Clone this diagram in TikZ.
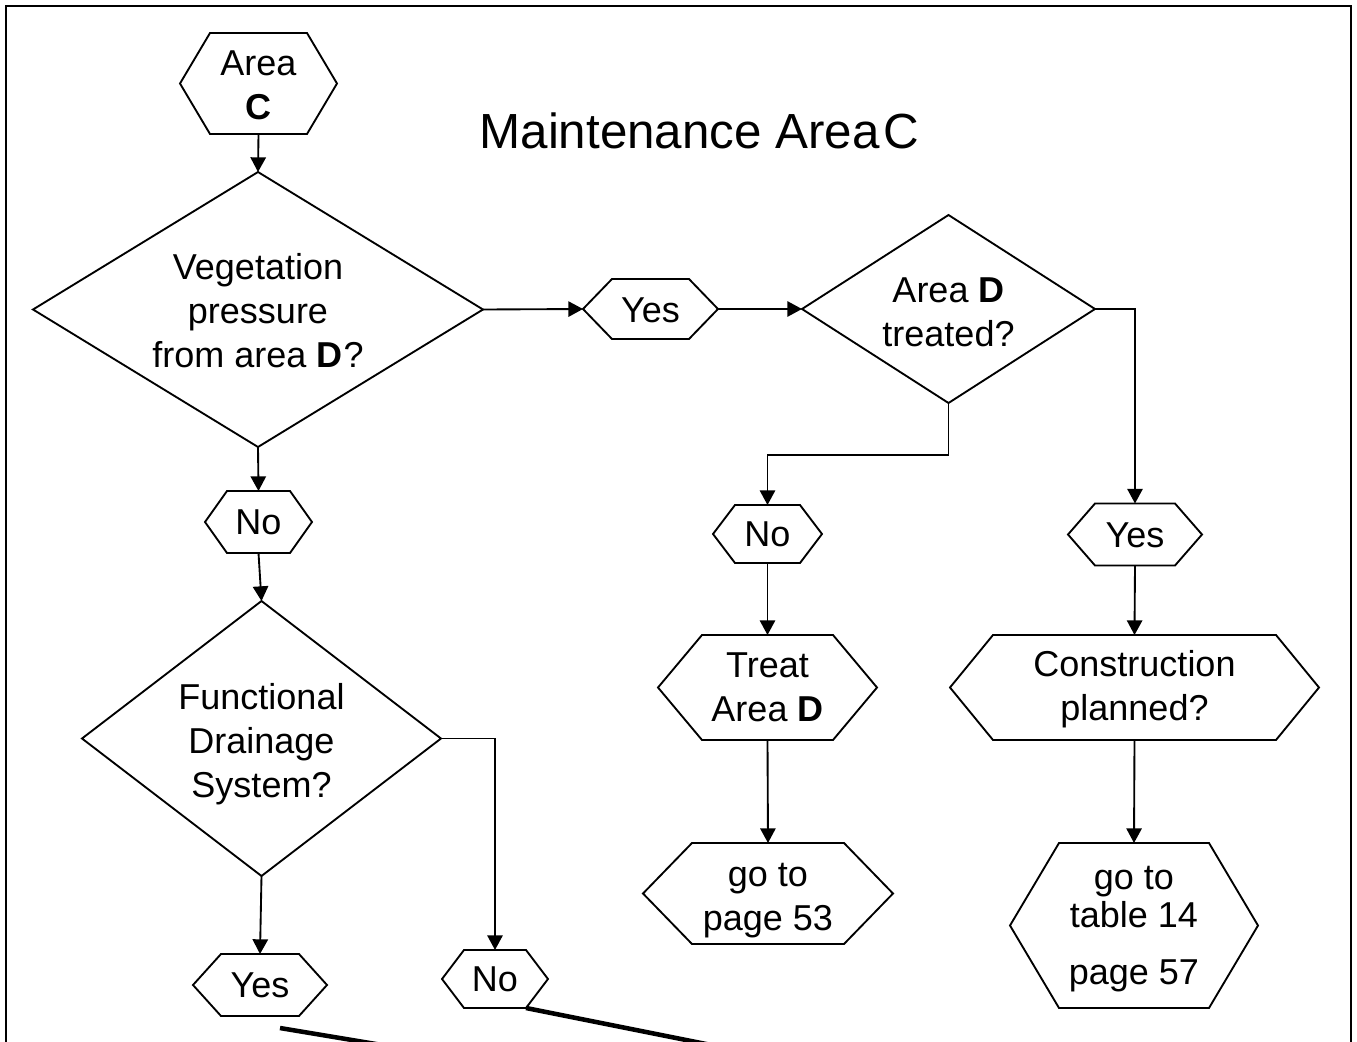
\documentclass[tikz,border=0pt]{standalone}
\usepackage{fontspec}
\setmainfont{Liberation Sans}
\usetikzlibrary{arrows.meta,calc}

\tikzset{
  outline/.style={line width=1.4pt, line join=miter},
  shape box/.style={inner sep=0pt, outer sep=0pt},
  label text/.style={inner sep=0pt, outer sep=0pt, align=center,
    font=\fontsize{27}{33}\selectfont},
  flow/.style={line width=1.4pt, -{Triangle[length=11pt,width=11.5pt]}},
  heavy/.style={line width=3.4pt},
  frame/.style={line width=2.2pt},
}

% hexagon: [text shift], name, x, y, width, height, side indent, text (lengths in px units)
\newcommand{\flowhex}[8][0]{%
  \node[shape box, minimum width=#5*0.75pt, minimum height=#6*0.75pt] (#2) at (#3,#4) {};
  \node[label text] at ($(#3,#4)+(0,#1)$) {#8};
  \draw[outline] (#2.west) -- ($(#2.north west)+(#7,0)$) -- ($(#2.north east)+(-#7,0)$)
    -- (#2.east) -- ($(#2.south east)+(-#7,0)$) -- ($(#2.south west)+(#7,0)$) -- cycle;}

% decision diamond: [text shift], name, x, y, width, height, text
\newcommand{\flowdia}[7][0]{%
  \node[shape box, minimum width=#5*0.75pt, minimum height=#6*0.75pt] (#2) at (#3,#4) {};
  \node[label text] at ($(#3,#4)+(0,#1)$) {#7};
  \draw[outline] (#2.west) -- (#2.north) -- (#2.east) -- (#2.south) -- cycle;}

\begin{document}
\begin{tikzpicture}[x=0.75pt, y=-0.75pt]
\useasboundingbox (0,0) rectangle (1357,1042);
\clip (0,0) rectangle (1357,1042);

% page frame, open at the bottom
\draw[frame] (6,1100) -- (6,6) -- (1351,6) -- (1351,1100);

\node[font=\fontsize{37}{40}\selectfont, anchor=base, inner sep=0pt] (title)
  at (699.5,148) {Maintenance Area\kern0.08em C};

\flowhex[2]{areaC}{258.5}{83.5}{157}{101}{30}{Area\\\textbf{C}}
\flowdia[1]{veg}{258}{309.5}{450}{275}{Vegetation\\pressure\\from area \textbf{D}\kern1pt?}
\flowhex[1]{yesA}{650.5}{309}{135}{60}{29}{Yes}
\flowdia[3]{treated}{948.5}{309}{293}{188}{Area \textbf{D}\\treated?}
\flowhex[1]{yesB}{1135}{534.5}{134}{62}{27}{Yes}
\flowhex{noB}{767.5}{534}{109}{58}{22}{No}
\flowhex{treat}{767.5}{687.5}{219}{105}{44}{Treat\\Area \textbf{D}}
\flowhex[7]{pageA}{768}{893.5}{250}{101}{49}{go to\\page 53}
\flowhex[2]{constr}{1134.5}{687.5}{369}{105}{43}{Construction\\planned?}
\flowhex[4]{pageB}{1134}{925.5}{248}{165}{49}{go to\\[-4.5pt]table 14\\[9.75pt]page 57}
\flowhex{noA}{258.5}{522}{107}{62}{22}{No}
\flowdia[6]{drain}{261.5}{738.5}{359}{275}{Functional\\Drainage\\System?}
\flowhex{yesC}{260}{985}{134}{62}{28}{Yes}
\flowhex{noC}{495}{979}{106}{58}{22}{No}

% connectors
\draw[flow] (areaC.south) -- (veg.north);
\draw[flow] (veg.east) -- (yesA.west);
\draw[flow] (yesA.east) -- (treated.west);
\draw[flow] (treated.east) -| (yesB.north);
\draw[flow] (treated.south) -- ++(0,52) -| (noB.north);
\draw[flow] (noB.south) -- (treat.north);
\draw[flow] (treat.south) -- (pageA.north);
\draw[flow] (yesB.south) -- (constr.north);
\draw[flow] (constr.south) -- (pageB.north);
\draw[flow] (veg.south) -- (noA.north);
\draw[flow] (noA.south) -- (drain.north);
\draw[flow] (drain.east) -| (noC.north);
\draw[flow] (drain.south) -- (yesC.north);

% heavy lines running off the lower edge
\coordinate (cutA) at (280,1028);
\coordinate (cutAend) at (520,1068);
\draw[heavy] (cutA) -- (cutAend);
\coordinate (cutB) at ($(noC.south east)+(-22,0)$);
\draw[heavy] (cutB) -- ++(340,68);
\end{tikzpicture}
\end{document}
